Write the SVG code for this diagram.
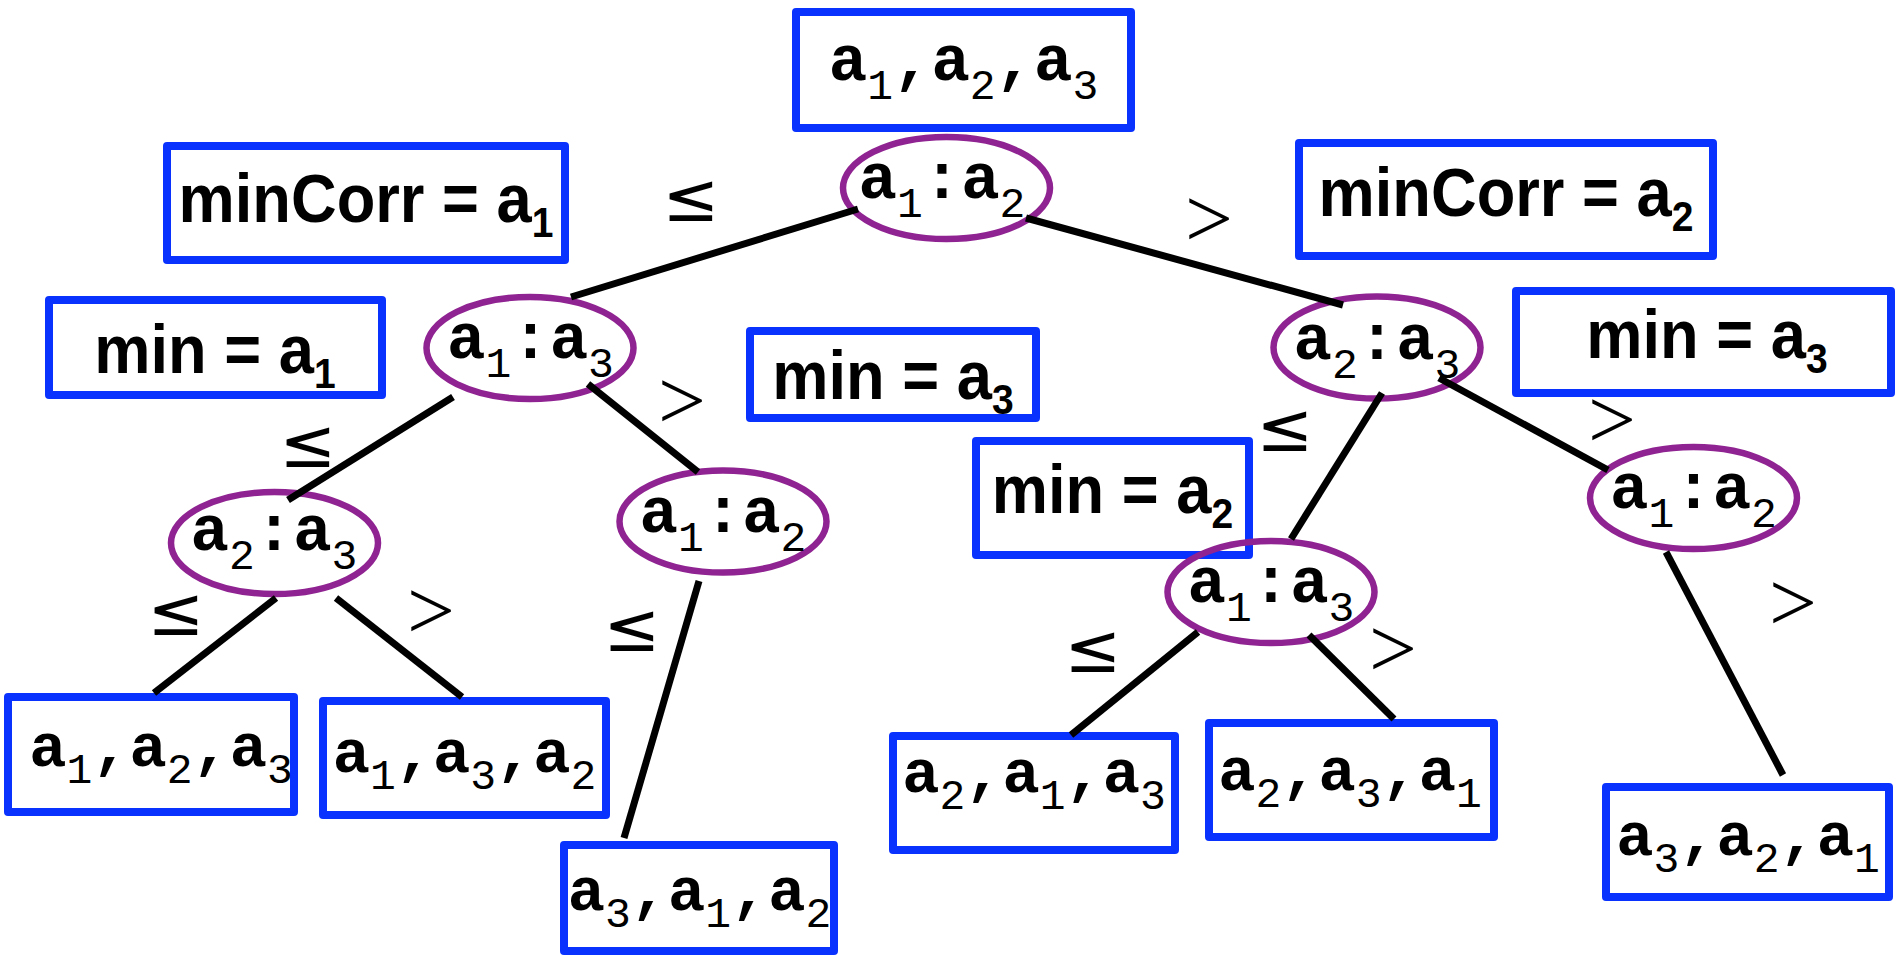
<svg xmlns="http://www.w3.org/2000/svg" width="1897" height="955" viewBox="0 0 1897 955">
<style>
.box{fill:none;stroke:#0a32ff;stroke-width:8;stroke-linejoin:round}
.ell{fill:none;stroke:#8f2391;stroke-width:6.5}
.edge{stroke:#000;stroke-width:7;fill:none}
.mono{font-family:"Liberation Mono","DejaVu Sans Mono",monospace;font-weight:bold;text-anchor:middle;fill:#000}
.m64{font-size:64px}
.m62{font-size:62px}
.sub{font-size:43px;font-weight:normal}
.sans{font-family:"Liberation Sans",Arial,sans-serif;font-weight:bold;font-size:68px;text-anchor:middle;fill:#000}
.ssub{font-size:42px}
.le{font-family:"DejaVu Sans",sans-serif;font-size:68px;text-anchor:middle;fill:#000}
.gt{font-family:"Liberation Serif",serif;font-size:85px;text-anchor:middle;fill:#000}
</style>
<rect width="1897" height="955" fill="#fff"/>

<g id="box-top"><rect class="box" x="796" y="12" width="335" height="116"/>
<text class="mono m64" x="963.5" y="80">a<tspan class="sub" dy="19">1</tspan><tspan dy="-19">,a</tspan><tspan class="sub" dy="19">2</tspan><tspan dy="-19">,a</tspan><tspan class="sub" dy="19">3</tspan></text></g>

<g id="box-mincorr-a1"><rect class="box" x="167" y="146" width="398" height="114"/>
<text class="sans" transform="translate(366 222) scale(0.93 1)">minCorr = a<tspan class="ssub" dy="15">1</tspan></text></g>
<g id="box-mincorr-a2"><rect class="box" x="1299" y="143" width="414" height="113"/>
<text class="sans" transform="translate(1506 216) scale(0.93 1)">minCorr = a<tspan class="ssub" dy="15">2</tspan></text></g>
<g id="box-min-a1"><rect class="box" x="49" y="300" width="333" height="95"/>
<text class="sans" transform="translate(215 373) scale(0.93 1)">min = a<tspan class="ssub" dy="15">1</tspan></text></g>
<g id="box-min-a3-mid"><rect class="box" x="750" y="331" width="286" height="87"/>
<text class="sans" transform="translate(893 399) scale(0.93 1)">min = a<tspan class="ssub" dy="15">3</tspan></text></g>
<g id="box-min-a3-right"><rect class="box" x="1516" y="291" width="375" height="102"/>
<text class="sans" transform="translate(1707 358) scale(0.93 1)">min = a<tspan class="ssub" dy="15">3</tspan></text></g>
<g id="box-min-a2"><rect class="box" x="976" y="441" width="273" height="114"/>
<text class="sans" transform="translate(1112.5 513) scale(0.93 1)">min = a<tspan class="ssub" dy="15">2</tspan></text></g>

<g id="leaf1"><rect class="box" x="8" y="697" width="286" height="115"/>
<text class="mono m62" x="161" y="766">a<tspan class="sub" dy="17">1</tspan><tspan dy="-17">,a</tspan><tspan class="sub" dy="17">2</tspan><tspan dy="-17">,a</tspan><tspan class="sub" dy="17">3</tspan></text></g>
<g id="leaf2"><rect class="box" x="323" y="701" width="283" height="114"/>
<text class="mono m62" x="464.5" y="772">a<tspan class="sub" dy="17">1</tspan><tspan dy="-17">,a</tspan><tspan class="sub" dy="17">3</tspan><tspan dy="-17">,a</tspan><tspan class="sub" dy="17">2</tspan></text></g>
<g id="leaf3"><rect class="box" x="564" y="845" width="270" height="106"/>
<text class="mono m62" x="699.5" y="910">a<tspan class="sub" dy="17">3</tspan><tspan dy="-17">,a</tspan><tspan class="sub" dy="17">1</tspan><tspan dy="-17">,a</tspan><tspan class="sub" dy="17">2</tspan></text></g>
<g id="leaf4"><rect class="box" x="893" y="736" width="282" height="114"/>
<text class="mono m62" x="1034" y="792">a<tspan class="sub" dy="17">2</tspan><tspan dy="-17">,a</tspan><tspan class="sub" dy="17">1</tspan><tspan dy="-17">,a</tspan><tspan class="sub" dy="17">3</tspan></text></g>
<g id="leaf5"><rect class="box" x="1209" y="723" width="285" height="114"/>
<text class="mono m62" x="1350" y="790">a<tspan class="sub" dy="17">2</tspan><tspan dy="-17">,a</tspan><tspan class="sub" dy="17">3</tspan><tspan dy="-17">,a</tspan><tspan class="sub" dy="17">1</tspan></text></g>
<g id="leaf6"><rect class="box" x="1606" y="787" width="283" height="110"/>
<text class="mono m62" x="1748" y="855">a<tspan class="sub" dy="17">3</tspan><tspan dy="-17">,a</tspan><tspan class="sub" dy="17">2</tspan><tspan dy="-17">,a</tspan><tspan class="sub" dy="17">1</tspan></text></g>

<g id="cmp-root"><ellipse class="ell" cx="946.5" cy="188" rx="103.5" ry="51"/>
<text class="mono m64" x="942" y="198">a<tspan class="sub" dy="19">1</tspan><tspan dy="-19">:a</tspan><tspan class="sub" dy="19">2</tspan></text></g>
<g id="cmp-a1a3-left"><ellipse class="ell" cx="530" cy="348" rx="103.5" ry="51"/>
<text class="mono m64" x="530.5" y="358">a<tspan class="sub" dy="19">1</tspan><tspan dy="-19">:a</tspan><tspan class="sub" dy="19">3</tspan></text></g>
<g id="cmp-a2a3-left"><ellipse class="ell" cx="274.5" cy="543" rx="103.5" ry="51"/>
<text class="mono m64" x="274" y="550">a<tspan class="sub" dy="19">2</tspan><tspan dy="-19">:a</tspan><tspan class="sub" dy="19">3</tspan></text></g>
<g id="cmp-a1a2-mid"><ellipse class="ell" cx="723" cy="521.5" rx="103.5" ry="51"/>
<text class="mono m64" x="723" y="532">a<tspan class="sub" dy="19">1</tspan><tspan dy="-19">:a</tspan><tspan class="sub" dy="19">2</tspan></text></g>
<g id="cmp-a2a3-right"><ellipse class="ell" cx="1377" cy="347.5" rx="103.5" ry="51"/>
<text class="mono m64" x="1377" y="359">a<tspan class="sub" dy="19">2</tspan><tspan dy="-19">:a</tspan><tspan class="sub" dy="19">3</tspan></text></g>
<g id="cmp-a1a3-low"><ellipse class="ell" cx="1271" cy="592" rx="103.5" ry="51"/>
<text class="mono m64" x="1271" y="602">a<tspan class="sub" dy="19">1</tspan><tspan dy="-19">:a</tspan><tspan class="sub" dy="19">3</tspan></text></g>
<g id="cmp-a1a2-farright"><ellipse class="ell" cx="1693.5" cy="498" rx="103.5" ry="51"/>
<text class="mono m64" x="1693.5" y="508">a<tspan class="sub" dy="19">1</tspan><tspan dy="-19">:a</tspan><tspan class="sub" dy="19">2</tspan></text></g>

<g id="connectors">
<line class="edge" x1="858" y1="209" x2="571" y2="297"/>
<line class="edge" x1="1026" y1="218" x2="1343" y2="305"/>
<line class="edge" x1="453" y1="397" x2="288" y2="500"/>
<line class="edge" x1="588" y1="384" x2="698" y2="472"/>
<line class="edge" x1="276" y1="598" x2="154" y2="693"/>
<line class="edge" x1="336" y1="598" x2="462" y2="697"/>
<line class="edge" x1="699" y1="581" x2="624" y2="838"/>
<line class="edge" x1="1382" y1="393" x2="1291" y2="539"/>
<line class="edge" x1="1439" y1="378" x2="1608" y2="470"/>
<line class="edge" x1="1198" y1="632" x2="1071" y2="735"/>
<line class="edge" x1="1309" y1="635" x2="1394" y2="719"/>
<line class="edge" x1="1666" y1="552" x2="1783" y2="775"/>
<text class="le" x="691" y="221">≤</text>
<text class="le" x="308" y="467">≤</text>
<text class="le" x="176" y="635">≤</text>
<text class="le" x="632" y="651">≤</text>
<text class="le" x="1285" y="451">≤</text>
<text class="le" x="1093" y="672">≤</text>
<text class="gt" x="1209" y="247">&gt;</text>
<text class="gt" x="682" y="429">&gt;</text>
<text class="gt" x="431" y="639">&gt;</text>
<text class="gt" x="1612" y="448">&gt;</text>
<text class="gt" x="1393" y="677">&gt;</text>
<text class="gt" x="1793" y="631">&gt;</text>
</g>
</svg>
